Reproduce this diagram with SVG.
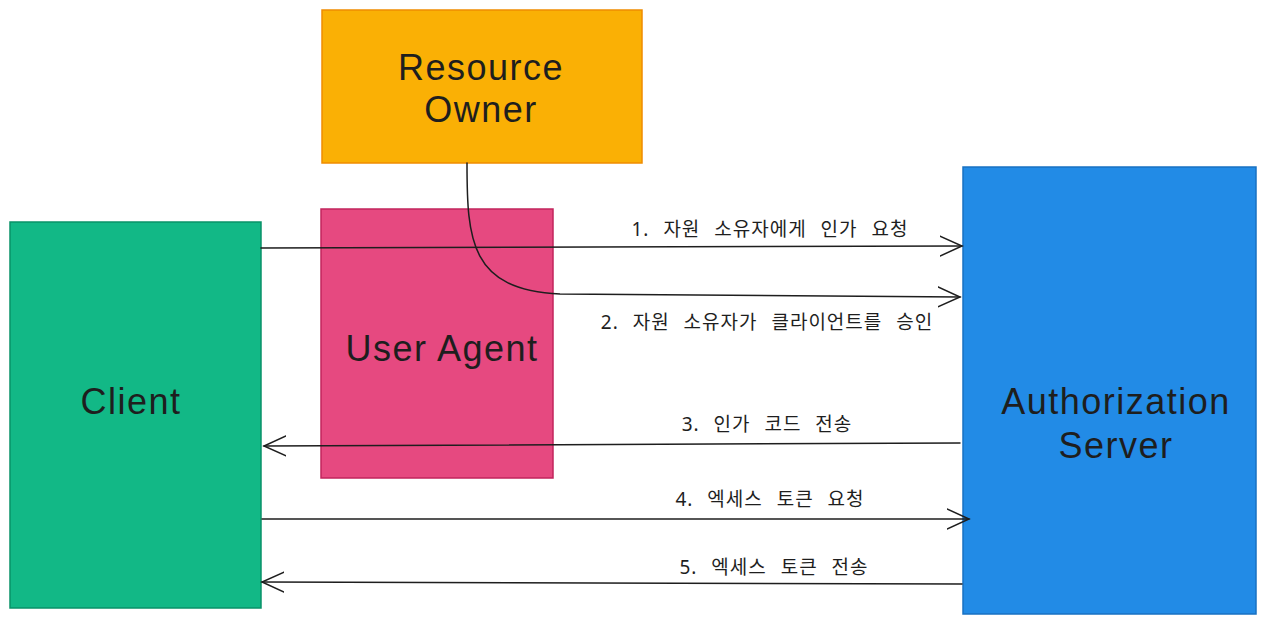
<svg xmlns="http://www.w3.org/2000/svg" width="1266" height="624" viewBox="0 0 1266 624">
<style>
.big{font-family:"Liberation Sans","Noto Sans",sans-serif;font-size:36px;letter-spacing:1.5px;fill:#1e1e1e;text-anchor:middle}
.lbl{font-family:"Noto Sans","Noto Sans CJK KR",sans-serif;font-size:19px;letter-spacing:1px;word-spacing:8px;fill:#1e1e1e;text-anchor:middle}
.ln{fill:none;stroke:#1e1e1e;stroke-width:1.5;stroke-linecap:round}
</style>
<defs>
<marker id="ah" viewBox="0 0 24 24" markerWidth="24" markerHeight="24" refX="22" refY="12" orient="auto" markerUnits="userSpaceOnUse">
<path d="M0,2 L22,12 L0,22" fill="none" stroke="#1e1e1e" stroke-width="1.5" stroke-linecap="round"/>
</marker>
</defs>
<rect width="1266" height="624" fill="#ffffff"/>
<g id="resource-owner">
<rect x="322" y="10" width="320" height="153" fill="#fab005" stroke="#f08c00" stroke-width="1.5"/>
<text class="big" x="481" y="80">Resource</text>
<text class="big" x="481" y="122">Owner</text>
</g>
<g id="user-agent">
<rect x="321" y="209" width="232" height="269" fill="#e64980" stroke="#c2255c" stroke-width="1.5"/>
<text class="big" x="442" y="361">User Agent</text>
</g>
<g id="client">
<rect x="10" y="222" width="251" height="386" fill="#12b886" stroke="#099268" stroke-width="1.5"/>
<text class="big" x="131" y="414">Client</text>
</g>
<g id="authorization-server">
<rect x="963" y="167" width="293" height="447" fill="#228be6" stroke="#1971c2" stroke-width="1.5"/>
<text class="big" x="1116" y="414">Authorization</text>
<text class="big" x="1116" y="458">Server</text>
</g>
<g id="connectors">
<path class="ln" d="M261,248 L962,246" marker-end="url(#ah)"/>
<path class="ln" d="M467,163 C467,240 470,290 560,294 L960,297" marker-end="url(#ah)"/>
<path class="ln" d="M960,443 L264,446" marker-end="url(#ah)"/>
<path class="ln" d="M262,519 L969,519" marker-end="url(#ah)"/>
<path class="ln" d="M962,584 L262,582" marker-end="url(#ah)"/>
</g>
<g id="labels">
<text class="lbl" x="770" y="236">1. 자원 소유자에게 인가 요청</text>
<text class="lbl" x="767" y="329">2. 자원 소유자가 클라이언트를 승인</text>
<text class="lbl" x="767" y="431">3. 인가 코드 전송</text>
<text class="lbl" x="770" y="506">4. 엑세스 토큰 요청</text>
<text class="lbl" x="774" y="574">5. 엑세스 토큰 전송</text>
</g>
</svg>
